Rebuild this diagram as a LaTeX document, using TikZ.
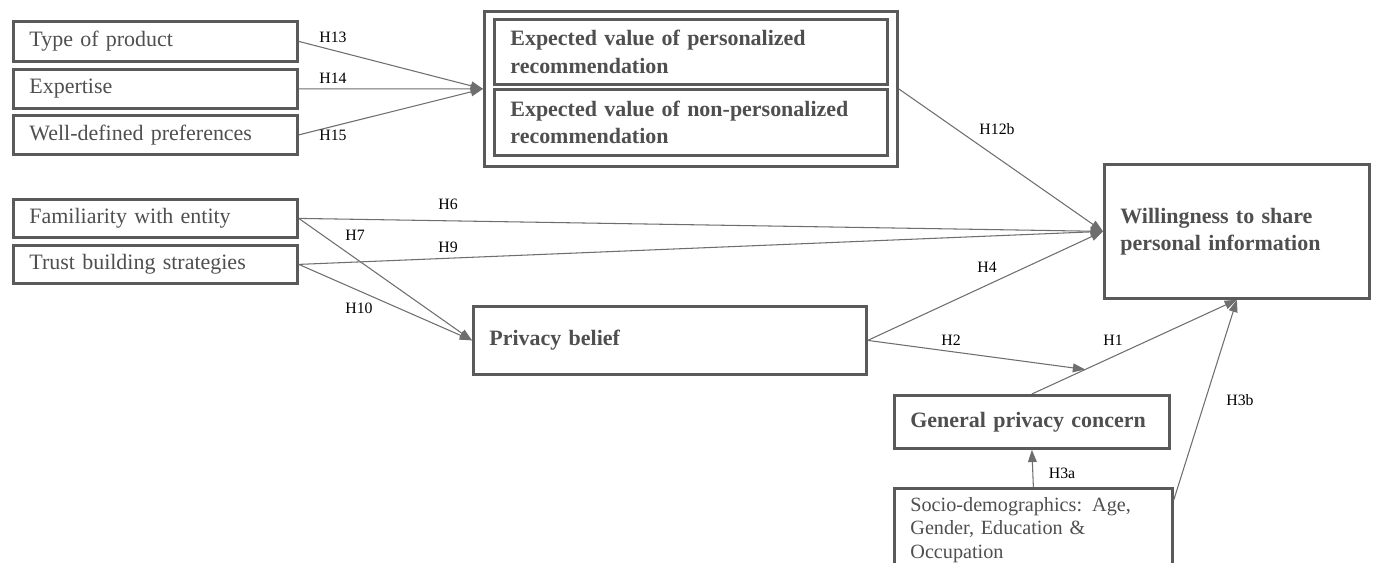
\documentclass[tikz,border=0pt]{standalone}
\usepackage{fontspec}
\setmainfont{Liberation Serif}
\usepackage{tikz}
\usetikzlibrary{arrows.meta,calc}

\definecolor{boxline}{HTML}{5A5A5A}
\definecolor{arrline}{HTML}{6E6E6E}
\definecolor{boxtext}{HTML}{4F4F4F}

\tikzset{
  box/.style={draw=boxline, line width=1.6pt, fill=white, anchor=north west,
    inner xsep=0.32cm, inner ysep=0pt, align=left, text=boxtext,
    font=\fontsize{12.5}{15}\selectfont},
  boldbox/.style={box, font=\fontsize{12.5}{15.5}\selectfont\bfseries},
  hyp/.style={draw=arrline, line width=0.6pt, -{Triangle[length=7pt,width=5pt]}},
  hlabel/.style={font=\fontsize{9}{10}\selectfont, inner sep=0pt}
}

\begin{document}
\begin{tikzpicture}[x=0.02cm, y=-0.02cm]
        \clip (0,0) rectangle (1373,563);
        \fill[white] (0,0) rectangle (1373,563);

        % antecedents of expected value
        \node[box, text width=5.04cm, minimum height=0.8cm]  (tp)  at (12,20)  {Type of product};
        \node[box, text width=5.04cm, minimum height=0.78cm] (ex)  at (12,68)  {Expertise};
        \node[box, text width=5.04cm, minimum height=0.78cm] (wd)  at (12,114) {Well-defined preferences};

        % expected value, double box
        \node[box, minimum width=8.26cm, minimum height=3.1cm]    (ev)  at (483,10) {};
        \node[boldbox, text width=7.22cm, minimum height=1.3cm]  (evp) at (493,18) {Expected value of personalized\\recommendation};
        \node[boldbox, text width=7.22cm, minimum height=1.32cm] (evn) at (493,88) {Expected value of non-personalized\\recommendation};

        % trust antecedents
        \node[box, text width=5.04cm, minimum height=0.76cm] (fam) at (12,198) {Familiarity with entity};
        \node[box, text width=5.04cm, minimum height=0.76cm] (tbs) at (12,244) {Trust building strategies};

        \node[boldbox, text width=7.22cm, minimum height=1.36cm] (pb)   at (472,305)  {Privacy belief};
        \node[boldbox, text width=4.66cm, minimum height=2.68cm] (will) at (1103,163) {Willingness to share\\personal information};
        \node[boldbox, text width=4.86cm, minimum height=1.06cm] (gpc)  at (893,394)  {General privacy concern};
        \node[box, text width=4.92cm, minimum height=1.66cm,
              font=\fontsize{11.5}{13.3}\selectfont]             (soc)  at (893,487)  {Socio-demographics: Age,\\Gender, Education \&\\Occupation};

        % hypotheses
        \draw[hyp] (tp.east)  -- (ev.west);
        \draw[hyp] (ex.east)  -- (ev.west);
        \draw[hyp] (wd.east)  -- (ev.west);
        \draw[hyp] (ev.east)  -- (will.west);
        \draw[hyp] (fam.east) -- (will.west);
        \draw[hyp] (tbs.east) -- (will.west);
        \draw[hyp] (fam.east) -- (pb.west);
        \draw[hyp] (tbs.east) -- (pb.west);
        \draw[hyp] (pb.east)  -- (will.west);
        \coordinate (h2end) at ($(gpc.north)!0.26!(will.south)$);
        \draw[hyp] (pb.east)  -- (h2end);
        \draw[hyp] (gpc.north) -- (will.south);
        \draw[hyp] (soc.north) -- (gpc.south);
        \draw[hyp] ([yshift=-0.26cm]soc.north east) -- (will.south);

        \node[hlabel] (h13)  at (333,37)  {H13};
        \node[hlabel] (h14)  at (333,78)  {H14};
        \node[hlabel] (h15)  at (333,135) {H15};
        \node[hlabel] (h12b) at (997,129) {H12b};
        \node[hlabel] (h6)   at (448,204) {H6};
        \node[hlabel] (h9)   at (448,247) {H9};
        \node[hlabel] (h7)   at (355,235) {H7};
        \node[hlabel] (h10)  at (359,308) {H10};
        \node[hlabel] (h4)   at (987,267) {H4};
        \node[hlabel] (h2)   at (951,340) {H2};
        \node[hlabel] (h1)   at (1113,340) {H1};
        \node[hlabel] (h3a)  at (1062,473) {H3a};
        \node[hlabel] (h3b)  at (1240,400) {H3b};
\end{tikzpicture}
\end{document}
